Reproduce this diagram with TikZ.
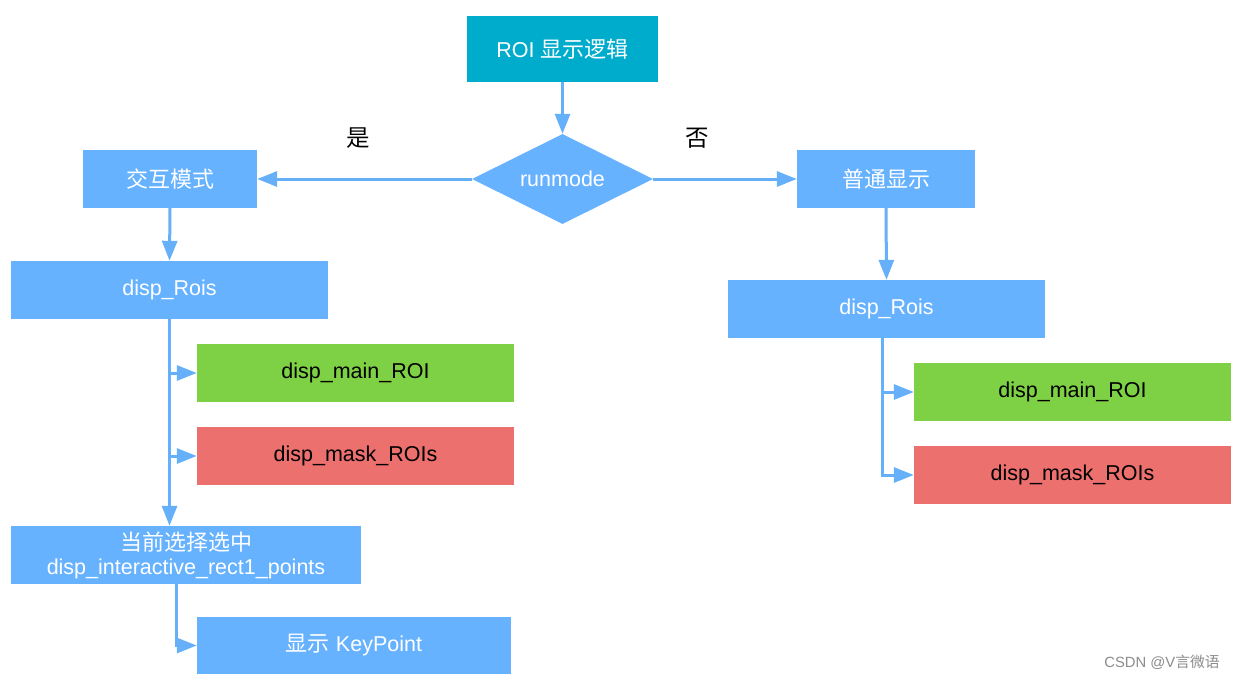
\documentclass[tikz,border=0pt]{standalone}
\usepackage{fontspec}
\setmainfont{Liberation Sans}
\newfontfamily\cjk{Noto Sans CJK SC}
\usetikzlibrary{shapes.geometric,arrows.meta}
\definecolor{teal1}{RGB}{0,172,204}
\definecolor{lblue}{RGB}{102,178,255}
\definecolor{abl}{RGB}{102,176,250}
\definecolor{grn}{RGB}{126,209,68}
\definecolor{redb}{RGB}{236,112,109}
\tikzset{
  box/.style={rectangle, fill=lblue, text=white, inner sep=0pt, align=center,
    font=\fontsize{21.5}{26}\selectfont},
  arr/.style={draw=abl, line width=3pt, -{Triangle[length=20pt,width=15pt]}},
  lbl/.style={font=\fontsize{23.5}{28}\selectfont\cjk, text=black}
}
\begin{document}
\begin{tikzpicture}[x=1pt,y=-1pt]
\useasboundingbox[fill=white] (0,0) rectangle (1236,680);
% nodes
\node[box, fill=teal1, minimum width=191pt, minimum height=66pt] (top) at (562.5,49) {ROI {\cjk\fontsize{22}{26}\selectfont 显示逻辑}};
\node[diamond, fill=lblue, text=white, inner sep=0pt, minimum width=181pt, minimum height=90pt, aspect=2, font=\fontsize{21.5}{26}\selectfont] (dia) at (562.5,179) {runmode};
\node[box, minimum width=174pt, minimum height=58pt, font=\fontsize{22}{26}\selectfont\cjk] (jh) at (170,179) {交互模式};
\node[box, minimum width=178pt, minimum height=58pt, font=\fontsize{22}{26}\selectfont\cjk] (pt) at (886,179) {普通显示};
\node[box, minimum width=317pt, minimum height=58pt] (lrois) at (169.5,290) {disp\_Rois};
\node[box, fill=grn, text=black, minimum width=317pt, minimum height=58pt] (lmain) at (355.5,373) {disp\_main\_ROI};
\node[box, fill=redb, text=black, minimum width=317pt, minimum height=58pt] (lmask) at (355.5,456) {disp\_mask\_ROIs};
\node[box, minimum width=350pt, minimum height=58pt, font=\fontsize{21.5}{24}\selectfont] (cur) at (186,555) {{\cjk\fontsize{22}{24}\selectfont 当前选择选中}\\disp\_interactive\_rect1\_points};
\node[box, minimum width=314pt, minimum height=57pt] (kp) at (354,645.5) {{\cjk\fontsize{22}{26}\selectfont 显示} KeyPoint};
\node[box, minimum width=317pt, minimum height=58pt] (rrois) at (886.5,309) {disp\_Rois};
\node[box, fill=grn, text=black, minimum width=317pt, minimum height=58pt] (rmain) at (1072.5,392) {disp\_main\_ROI};
\node[box, fill=redb, text=black, minimum width=317pt, minimum height=58pt] (rmask) at (1072.5,475) {disp\_mask\_ROIs};
\node[lbl] (yes) at (358,138) {是};
\node[lbl] (no) at (697,138) {否};
\node[font=\fontsize{14.8}{17}\selectfont, text=black!45] (wm) at (1162,662) {CSDN @V{\cjk 言微语}};
% connectors
\draw[arr] (top.south) -- (dia.north);
\draw[arr] (dia.west) -- (jh.east);
\draw[arr] (dia.east) -- (pt.west);
\draw[arr] (jh.south) -- (lrois.north);
\draw[arr] (pt.south) -- (rrois.north);
\draw[arr] (lrois.south) -- (lrois.south |- cur.north);
\draw[arr] (lrois.south |- lmain.west) -- (lmain.west);
\draw[arr] (lrois.south |- lmask.west) -- (lmask.west);
\coordinate (kt) at ([xshift=-10pt]cur.south);
\draw[arr] (kt) |- (kp.west);
\coordinate (rt) at ([xshift=-4.5pt]rrois.south);
\draw[arr] (rt) |- (rmask.west);
\draw[arr] (rt |- rmain.west) -- (rmain.west);
\end{tikzpicture}
\end{document}
